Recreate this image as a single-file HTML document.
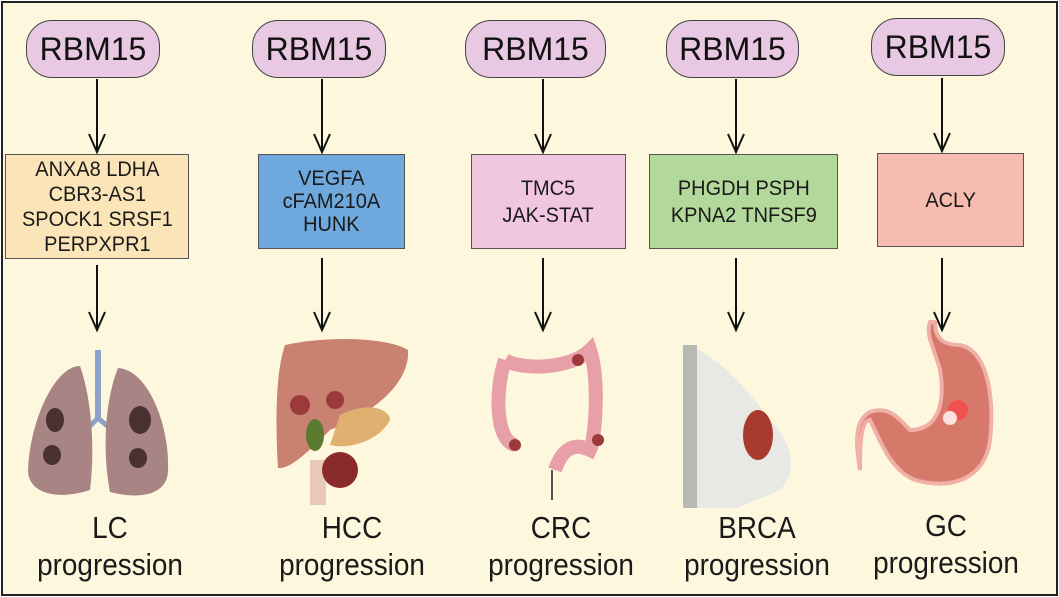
<!DOCTYPE html>
<html><head><style>
body{margin:0;width:1059px;height:597px;overflow:hidden;background:#fff}
.frame{position:absolute;left:1px;top:1px;width:1053px;height:591px;border:2px solid #222;background:#fdf8dd}
.pill{position:absolute;height:58px;border:1.5px solid #444;border-radius:26px;background:#e8c8e2;font:32px "Liberation Sans",sans-serif;display:flex;align-items:center;justify-content:center;box-sizing:border-box;color:#111}
.box{position:absolute;border:1.5px solid #555;box-sizing:border-box;display:flex;align-items:center;justify-content:center;text-align:center;font:21px/25px "Liberation Sans",sans-serif;color:#1a1a1a}
.box span{display:inline-block;transform:scaleX(0.95)}
.lab{position:absolute;width:200px;text-align:center;font:31px/37px "Liberation Sans",sans-serif;color:#1a1a1a;transform:scaleX(0.9)}
</style></head><body>
<div class="frame"></div>
<div class="pill" style="left:26px;top:20px;width:134px">RBM15</div>
<div class="pill" style="left:252px;top:20px;width:134px">RBM15</div>
<div class="pill" style="left:465px;top:20px;width:141px">RBM15</div>
<div class="pill" style="left:666px;top:20px;width:133px">RBM15</div>
<div class="pill" style="left:871px;top:18px;width:134px">RBM15</div>
<div class="box" style="left:5px;top:154px;width:184px;height:105px;background:#fbe5b8"><span>ANXA8 LDHA<br>CBR3-AS1<br>SPOCK1 SRSF1<br>PERPXPR1</span></div>
<div class="box" style="left:258px;top:154px;width:147px;height:95px;background:#6fa8dc;line-height:23px"><span>VEGFA<br>cFAM210A<br>HUNK</span></div>
<div class="box" style="left:471px;top:154px;width:155px;height:95px;background:#f0c6e0;line-height:27px"><span>TMC5<br>JAK-STAT</span></div>
<div class="box" style="left:649px;top:154px;width:189px;height:95px;background:#b3d89c;line-height:27px"><span>PHGDH PSPH<br>KPNA2 TNFSF9</span></div>
<div class="box" style="left:877px;top:153px;width:147px;height:94px;background:#f7bcb0"><span>ACLY</span></div>
<svg style="position:absolute;left:0;top:0" width="1059" height="597">
<g stroke="#111" stroke-width="2" fill="none">
<path d="M97 79V152M89 134L97 152L105 134"/>
<path d="M322 79V152M314 134L322 152L330 134"/>
<path d="M543 79V152M535 134L543 152L551 134"/>
<path d="M736 79V152M728 134L736 152L744 134"/>
<path d="M942 78V151M934 133L942 151L950 133"/>
<path d="M97 265V330M89 312L97 330L105 312"/>
<path d="M322 258V330M314 312L322 330L330 312"/>
<path d="M543 258V330M535 312L543 330L551 312"/>
<path d="M736 258V330M728 312L736 330L744 312"/>
<path d="M942 258V330M934 312L942 330L950 312"/>
</g>
<rect x="95" y="350" width="6" height="70" fill="#8fa0c8"/>
<path d="M98 418L86 430M98 418L112 430" stroke="#8fa0c8" stroke-width="5"/>
<path d="M80 366C55 366 30 420 28 470C28 495 60 500 90 490C95 450 92 400 80 366Z" fill="#a88484"/>
<path d="M118 368C150 370 170 430 168 470C168 495 140 500 110 492C102 450 105 400 118 368Z" fill="#a88484"/>
<ellipse cx="55" cy="420" rx="9" ry="12" fill="#4a3030"/><ellipse cx="52" cy="455" rx="9" ry="10" fill="#4a3030"/>
<ellipse cx="140" cy="420" rx="11" ry="14" fill="#4a3030"/><ellipse cx="138" cy="458" rx="9" ry="10" fill="#4a3030"/>
<path d="M285 345C330 335 390 338 408 350C410 380 380 410 330 430C310 450 290 470 278 468C275 420 276 370 285 345Z" fill="#c98272"/>
<path d="M340 415C370 400 390 410 390 420C380 440 350 450 330 445Z" fill="#e0b070"/>
<ellipse cx="315" cy="435" rx="9" ry="16" fill="#5a7a30"/>
<circle cx="300" cy="405" r="10" fill="#9a3a3a"/><circle cx="335" cy="400" r="9" fill="#9a3a3a"/>
<path d="M318 460V505" stroke="#e8c8b8" stroke-width="16"/>
<circle cx="340" cy="470" r="18" fill="#8a2a2a"/>
<path d="M505 360C520 370 570 370 590 350C600 380 595 440 590 450C570 440 560 455 555 470M505 360C495 390 495 440 515 445" stroke="#e8a0a8" stroke-width="14" fill="none"/>
<path d="M552 470V500" stroke="#555" stroke-width="2"/>
<circle cx="578" cy="360" r="6" fill="#9a3a3a"/><circle cx="515" cy="445" r="6" fill="#9a3a3a"/><circle cx="598" cy="440" r="6" fill="#9a3a3a"/>
<path d="M690 345C720 360 740 380 770 420C790 440 800 470 780 490C760 500 740 505 740 508H690Z" fill="#e8e8e4"/>
<path d="M690 345V508" stroke="#b8b8b4" stroke-width="14"/>
<ellipse cx="758" cy="435" rx="15" ry="25" fill="#a83a30"/>
<path d="M935 322C935 340 945 345 960 345C985 350 995 390 990 440C985 480 950 490 915 480C890 470 880 440 870 420C860 420 860 450 860 465L860 470C855 440 855 420 870 412C890 405 900 420 910 430C940 430 945 400 940 370C935 350 925 335 930 322Z" fill="#d6786a" stroke="#f0b0a8" stroke-width="4"/>
<circle cx="958" cy="410" r="10" fill="#f05050"/><circle cx="950" cy="418" r="7" fill="#fde0e0"/>
</svg>
<div class="lab" style="left:10px;top:509px">LC<br>progression</div>
<div class="lab" style="left:252px;top:509px">HCC<br>progression</div>
<div class="lab" style="left:461px;top:509px">CRC<br>progression</div>
<div class="lab" style="left:657px;top:509px">BRCA<br>progression</div>
<div class="lab" style="left:846px;top:507px">GC<br>progression</div>
</body></html>
